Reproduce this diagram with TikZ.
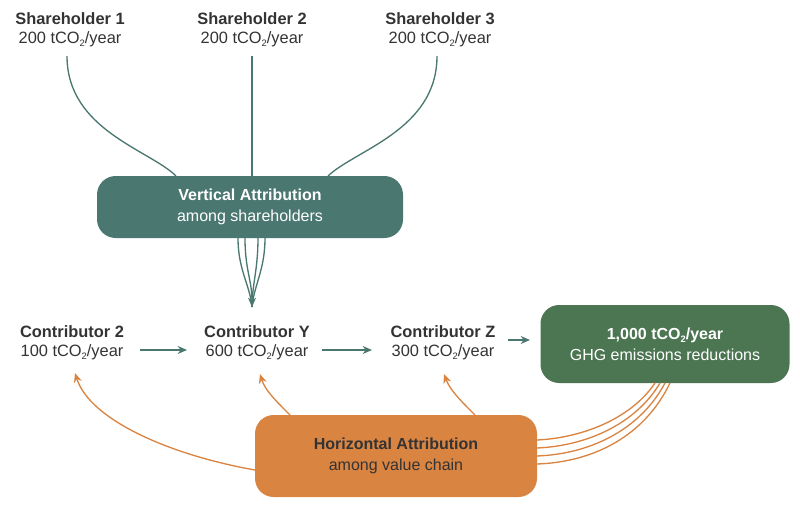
\documentclass[tikz,border=0pt]{standalone}
\usepackage{fontspec}
\setmainfont{Liberation Sans}
\usetikzlibrary{arrows.meta}
\definecolor{teal}{HTML}{4A7770}
\definecolor{ggreen}{HTML}{4B7651}
\definecolor{orng}{HTML}{DA8442}
\definecolor{txt}{HTML}{333333}
\newcommand{\tco}{tCO\raisebox{-0.35ex}{\scriptsize 2}/year}
\begin{document}
\begin{tikzpicture}[x=0.75pt,y=-0.75pt,
  lbl/.style={align=center,text=txt,font=\fontsize{12.3}{14.5}\selectfont},
  box/.style={rounded corners=14pt,draw=none,align=center,font=\fontsize{12}{16}\selectfont},
  tl/.style={teal,line width=1pt},
  ol/.style={orng,line width=1pt},
  arr/.style={-{Stealth[length=7pt,width=6pt]}}]
\useasboundingbox (0,0) rectangle (800,518);
\node[lbl] (s1) at (70,30) {\textbf{Shareholder 1}\\200 \tco};
\node[lbl] (s2) at (252,30) {\textbf{Shareholder 2}\\200 \tco};
\node[lbl] (s3) at (440,30) {\textbf{Shareholder 3}\\200 \tco};
\node[box,fill=teal,text=white,minimum width=306*0.75pt,minimum height=62*0.75pt] (v) at (250,207) {\textbf{Vertical Attribution}\\among shareholders};
\node[lbl] (c2) at (72,343) {\textbf{Contributor 2}\\100 \tco};
\node[lbl] (cy) at (257,343) {\textbf{Contributor Y}\\600 \tco};
\node[lbl] (cz) at (443,343) {\textbf{Contributor Z}\\300 \tco};
\node[box,fill=ggreen,text=white,minimum width=249*0.75pt,minimum height=78*0.75pt] (g) at (665,344) {\textbf{1,000 \tco}\\GHG emissions reductions};
\node[box,fill=orng,text=txt,minimum width=282*0.75pt,minimum height=82*0.75pt] (h) at (396,456) {\textbf{Horizontal Attribution}\\among value chain};
\coordinate (yt) at (252,307);
\draw[tl] (67,56) .. controls (67,130) and (150,150) .. (176,176);
\draw[tl] (252,56) -- (252,176);
\draw[tl] (437,56) .. controls (437,130) and (355,150) .. (328,176);
\draw[tl,arr] (245,238) .. controls (245,270) and (252,280) .. (yt);
\draw[tl] (238,238) .. controls (238,270) and (250,285) .. (yt);
\draw[tl] (258,238) .. controls (258,270) and (252,285) .. (yt);
\draw[tl] (265,238) .. controls (265,270) and (254,285) .. (yt);
\draw[tl,arr] (140,350) -- (187,350);
\draw[tl,arr] (322,350) -- (372,350);
\draw[tl,arr] (508,340) -- (530,340);
\draw[ol,arr] (255,470) .. controls (170,455) and (90,420) .. (75,373);
\draw[ol,arr] (290,415) .. controls (275,400) and (265,390) .. (260,374);
\draw[ol,arr] (475,415) .. controls (460,400) and (450,390) .. (444,374);
\draw[ol] (655,383) .. controls (630,420) and (580,438) .. (537,440);
\draw[ol] (660,383) .. controls (635,425) and (585,446) .. (537,448);
\draw[ol] (665,383) .. controls (640,430) and (590,454) .. (537,456);
\draw[ol] (670,383) .. controls (645,435) and (595,462) .. (537,464);
\end{tikzpicture}
\end{document}
